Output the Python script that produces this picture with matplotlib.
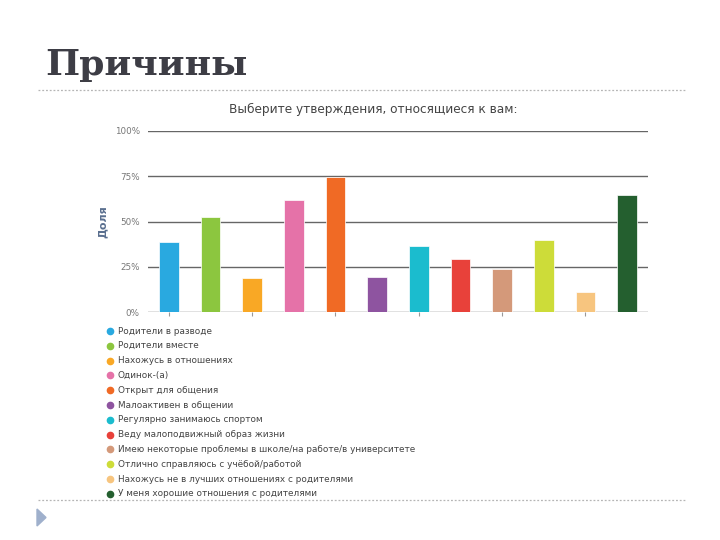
import matplotlib.pyplot as plt
from matplotlib.lines import Line2D
from matplotlib.patches import Polygon

# data
categories = [
    'Родители в разводе',
    'Родители вместе',
    'Нахожусь в отношениях',
    'Одинок-(а)',
    'Открыт для общения',
    'Малоактивен в общении',
    'Регулярно занимаюсь спортом',
    'Веду малоподвижный образ жизни',
    'Имею некоторые проблемы в школе/на работе/в университете',
    'Отлично справляюсь с учёбой/работой',
    'Нахожусь не в лучших отношениях с родителями',
    'У меня хорошие отношения с родителями',
]
shares = [38.5, 52.7, 18.6, 61.9, 74.4, 19.5, 36.5, 29.5, 23.6, 39.6, 11.2, 64.5]
colors = ['#29a9e0', '#8cc63f', '#f9a825', '#e572a8', '#f06a25', '#8e54a0',
          '#1bbcce', '#e8413a', '#d4997a', '#cddc39', '#f7c57f', '#245f2f']
yticks = [0, 25, 50, 75, 100]
ytick_labels = ['0%', '25%', '50%', '75%', '100%']

W, H = 720, 540
fig = plt.figure(figsize=(7.2, 5.4), dpi=100)
fig.patch.set_facecolor('white')

# slide title and separators
fig.text(45 / W, 1 - 65 / H, 'Причины', family='DejaVu Serif', weight='bold',
         fontsize=26, color='#3d3d45', va='center', ha='left')
for y in (90, 500):
    fig.add_artist(Line2D([38 / W, 685 / W], [1 - y / H, 1 - y / H], transform=fig.transFigure,
                          color='#b5b5b5', lw=0.9, ls=(0, (1.5, 1.5))))
fig.add_artist(Polygon([[37 / W, 1 - 509 / H], [37 / W, 1 - 526 / H], [46 / W, 1 - 517.5 / H]],
                       closed=True, transform=fig.transFigure, color='#9fb0cc'))

# chart
ax = fig.add_axes([148 / W, 1 - 312 / H, 500 / W, 181 / H])
x = list(range(len(shares)))
ax.bar(x, shares, width=0.47, color=colors, edgecolor='white', linewidth=0.5, zorder=3)
ax.set_xlim(-0.5, len(shares) - 0.5)
ax.set_ylim(0, 100)
ax.set_yticks(yticks)
ax.set_yticklabels(ytick_labels, fontsize=6.3, color='#777777')
ax.grid(axis='y', color='#666666', lw=1, zorder=0)
ax.set_xticks(x[::2])
ax.set_xticklabels([])
ax.tick_params(axis='x', length=3, color='#999999')
ax.tick_params(axis='y', length=0, pad=6)
for s in ax.spines.values():
    s.set_visible(False)
ax.set_ylabel('Доля', fontsize=8, weight='bold', color='#5a6f8f', labelpad=5)
fig.text(373 / W, 1 - 109 / H, 'Выберите утверждения, относящиеся к вам:', fontsize=8.7,
         color='#444444', ha='center', va='center')

# legend
for i, (lab, c) in enumerate(zip(categories, colors)):
    y = 1 - (331 + i * 14.8) / H
    fig.add_artist(Line2D([110 / W], [y], marker='o', markersize=4.5, color=c,
                          transform=fig.transFigure))
    fig.text(118 / W, y, lab, fontsize=6.4, color='#444444', va='center', ha='left')

fig.savefig('out.png', dpi=100)
